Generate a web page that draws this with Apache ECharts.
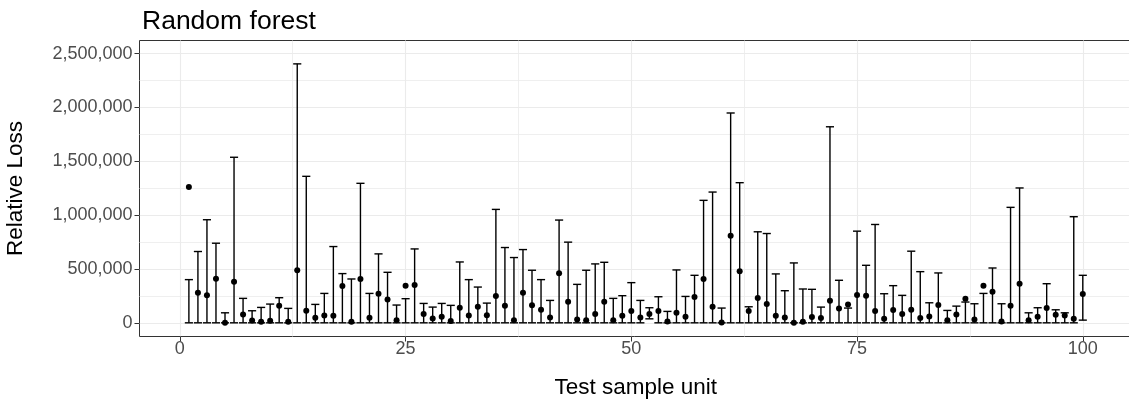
<!DOCTYPE html>
<html>
<head>
<meta charset="utf-8">
<script src="https://cdn.jsdelivr.net/npm/echarts@6/dist/echarts.min.js"></script>
<style>
html,body{margin:0;padding:0;background:#fff;}
#chart{width:1129px;height:403px;}
</style>
</head>
<body>
<div id="chart"></div>
<script>
const units = [1,2,3,4,5,6,7,8,9,10,11,12,13,14,15,16,17,18,19,20,
  21,22,23,24,25,26,27,28,29,30,31,32,33,34,35,36,37,38,39,40,
  41,42,43,44,45,46,47,48,49,50,51,52,53,54,55,56,57,58,59,60,
  61,62,63,64,65,66,67,68,69,70,71,72,73,74,75,76,77,78,79,80,
  81,82,83,84,85,86,87,88,89,90,91,92,93,94,95,96,97,98,99,100];

const pointLoss = [
  1261000,280000,255000,410000,0,382000,78000,22000,9000,19000,
  158000,9000,488000,112000,47000,68000,65000,342000,9000,407000,
  47000,270000,217000,25000,345000,351000,81000,40000,56000,16000,
  140000,68000,149000,71000,249000,158000,25000,280000,162000,121000,
  50000,460000,196000,31000,25000,81000,196000,25000,65000,109000,
  50000,81000,109000,12000,93000,56000,239000,407000,149000,3000,
  808000,478000,109000,230000,174000,65000,50000,0,9000,53000,
  44000,205000,134000,171000,258000,252000,109000,37000,118000,81000,
  121000,44000,59000,165000,25000,78000,224000,31000,345000,289000,
  12000,158000,363000,25000,56000,137000,75000,68000,37000,267000];

const upperLoss = [
  401000,662000,957000,739000,93000,1537000,227000,112000,143000,174000,
  233000,134000,2404000,1360000,171000,273000,708000,457000,407000,1295000,
  273000,640000,469000,165000,224000,686000,180000,146000,180000,162000,
  565000,401000,332000,183000,1053000,699000,606000,680000,488000,401000,
  208000,954000,749000,357000,488000,547000,562000,227000,252000,373000,
  208000,140000,242000,106000,491000,245000,441000,1137000,1214000,137000,
  1948000,1301000,149000,845000,829000,454000,298000,556000,314000,311000,
  146000,1820000,395000,137000,851000,534000,913000,270000,345000,255000,
  665000,475000,186000,463000,115000,155000,193000,177000,273000,509000,
  177000,1072000,1252000,93000,140000,363000,121000,93000,985000,441000];

const lowerLoss = [
  0,0,0,0,0,0,0,0,0,0, 0,0,0,0,0,0,0,0,0,0,
  0,0,0,0,0,0,0,0,0,0, 0,0,0,0,0,0,0,0,0,0,
  0,0,0,0,0,0,0,0,0,0, 0,37000,0,0,0,0,0,0,0,0,
  0,0,0,0,0,0,0,0,0,0, 0,0,0,0,0,0,0,0,0,0,
  0,0,0,0,0,0,0,0,0,0, 0,0,0,0,0,0,0,0,0,25000];

const xTicks = [0, 25, 50, 75, 100];
const xMinorTicks = [12.5, 37.5, 62.5, 87.5];
const yTicks = [0, 500000, 1000000, 1500000, 2000000, 2500000];
const yMinorTicks = [250000, 750000, 1250000, 1750000, 2250000];

const chartTitle = 'Random forest';
const xTitle = 'Test sample unit';
const yTitle = 'Relative Loss';

const barData = units.map((u, i) => [u, lowerLoss[i], upperLoss[i]]);
const pointData = units.map((u, i) => [u, pointLoss[i]]);

const FONT = '"Liberation Sans", Arial, Helvetica, sans-serif';
const GRID = '#ebebeb';
const CAP = 0.9;

const chart = echarts.init(document.getElementById('chart'), null, {renderer: 'canvas'});

const xRange = {min: -4.47, max: 105.45};
const yRange = {min: -127000, max: 2621000};

chart.setOption({
  animation: false,
  backgroundColor: '#ffffff',
  title: {
    text: chartTitle,
    left: 137,
    top: 3,
    textStyle: {fontFamily: FONT, fontSize: 26.5, fontWeight: 'normal', color: '#000'}
  },
  grid: {
    left: 139.5, top: 40.5, right: -3, bottom: 66.5,
    outerBoundsMode: 'none',
    containLabel: false,
    show: true, borderColor: '#333333', borderWidth: 1, backgroundColor: 'transparent'
  },
  xAxis: [{
    type: 'value', ...xRange,
    name: xTitle, nameLocation: 'middle', nameGap: 40,
    nameTextStyle: {fontFamily: FONT, fontSize: 22.5, color: '#000'},
    axisLine: {show: false, onZero: false},
    axisTick: {show: true, customValues: xTicks, length: 5, lineStyle: {color: '#333333', width: 1}},
    axisLabel: {customValues: xTicks, margin: 4, fontFamily: FONT, fontSize: 18, color: '#4d4d4d'},
    splitLine: {show: true, lineStyle: {color: GRID, width: 1.1}}
  }, {
    type: 'value', ...xRange, position: 'bottom',
    axisLine: {show: false, onZero: false},
    axisTick: {show: false, customValues: xMinorTicks},
    axisLabel: {show: false, customValues: xMinorTicks},
    splitLine: {show: true, lineStyle: {color: GRID, width: 0.8}}
  }],
  yAxis: [{
    type: 'value', ...yRange,
    name: yTitle, nameLocation: 'middle', nameGap: 112, nameRotate: 90,
    nameTextStyle: {fontFamily: FONT, fontSize: 22.5, color: '#000'},
    axisLine: {show: false, onZero: false},
    axisTick: {show: true, customValues: yTicks, length: 5, lineStyle: {color: '#333333', width: 1}},
    axisLabel: {customValues: yTicks, margin: 7, fontFamily: FONT, fontSize: 18, color: '#4d4d4d',
      formatter: v => Number(v).toLocaleString('en-US')},
    splitLine: {show: true, lineStyle: {color: GRID, width: 1.1}}
  }, {
    type: 'value', ...yRange, position: 'left',
    axisLine: {show: false, onZero: false},
    axisTick: {show: false, customValues: yMinorTicks},
    axisLabel: {show: false, customValues: yMinorTicks},
    splitLine: {show: true, lineStyle: {color: GRID, width: 0.8}}
  }],
  series: [{
    type: 'custom',
    xAxisIndex: 0, yAxisIndex: 0,
    data: barData,
    clip: false,
    renderItem: function (params, api) {
      const x = api.value(0), lo = api.value(1), hi = api.value(2);
      const pLo = api.coord([x, lo]);
      const pHi = api.coord([x, hi]);
      const hw = api.size([CAP, 0])[0] / 2;
      const st = {stroke: '#000', lineWidth: 1.4};
      return {type: 'group', children: [
        {type: 'line', shape: {x1: pLo[0], y1: pLo[1], x2: pHi[0], y2: pHi[1]}, style: st},
        {type: 'line', shape: {x1: pHi[0] - hw, y1: pHi[1], x2: pHi[0] + hw, y2: pHi[1]}, style: st},
        {type: 'line', shape: {x1: pLo[0] - hw, y1: pLo[1], x2: pLo[0] + hw, y2: pLo[1]}, style: st}
      ]};
    }
  }, {
    type: 'scatter',
    xAxisIndex: 0, yAxisIndex: 0,
    data: pointData,
    symbol: 'circle', symbolSize: 6,
    itemStyle: {color: '#000', opacity: 1},
    clip: false
  }]
});
</script>
</body>
</html>
